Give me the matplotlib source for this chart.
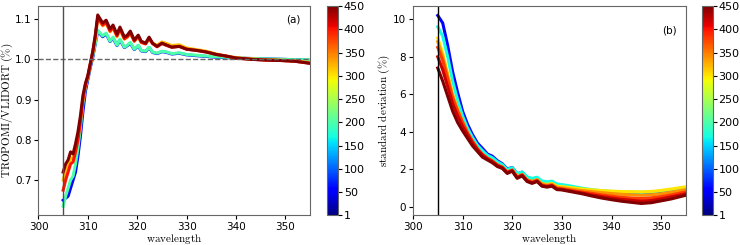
import matplotlib
matplotlib.use("Agg")
import matplotlib.pyplot as plt
from matplotlib import cm, colors

plt.rcParams['mathtext.fontset'] = 'cm'

# orbit index of each drawn curve (colour scale 1..450)
idx_a = [60, 200, 320, 400, 450]
idx_b = [60, 170, 300, 340, 380, 420, 450]
cbar_ticks = [1, 50, 100, 150, 200, 250, 300, 350, 400, 450]

# (a) ratio TROPOMI / VLIDORT
wave_a = [305, 305.5, 306, 306.5, 307, 307.5, 308, 308.5, 309, 309.5, 310, 310.5, 311, 311.5,
          312, 313, 313.7, 314.5, 315.1, 315.9, 316.5, 317.4, 318.0, 318.6, 319.4, 320.2, 320.8,
          321.7, 322.4, 323.1, 324.0, 325.0, 326.0, 327.0, 328.5, 330, 332, 334, 336, 338, 340,
          343, 346, 349, 352, 355]
ratio_60 = [0.65, 0.655, 0.66, 0.68, 0.70, 0.72, 0.76, 0.81, 0.87, 0.92, 0.95, 0.98, 1.005, 1.038,
            1.07, 1.056, 1.063, 1.044, 1.053, 1.034, 1.048, 1.029, 1.034, 1.04, 1.024, 1.034, 1.021,
            1.019, 1.029, 1.017, 1.014, 1.019, 1.017, 1.013, 1.015, 1.011, 1.009, 1.007, 1.005, 1.004,
            1.003, 1.002, 1.001, 1.0, 0.999, 0.998]
ratio_200 = [0.635, 0.66, 0.68, 0.70, 0.71, 0.74, 0.78, 0.83, 0.89, 0.93, 0.955, 0.985, 1.01, 1.04,
             1.072, 1.058, 1.065, 1.045, 1.055, 1.035, 1.05, 1.03, 1.035, 1.042, 1.025, 1.035, 1.022,
             1.02, 1.03, 1.018, 1.015, 1.02, 1.018, 1.014, 1.016, 1.012, 1.01, 1.008, 1.006, 1.005,
             1.003, 1.002, 1.001, 1.0, 0.999, 0.999]
ratio_320 = [0.70, 0.72, 0.735, 0.755, 0.755, 0.78, 0.81, 0.85, 0.90, 0.935, 0.957, 0.988, 1.015, 1.052,
             1.102, 1.083, 1.09, 1.068, 1.078, 1.056, 1.074, 1.05, 1.055, 1.065, 1.045, 1.056, 1.042,
             1.039, 1.052, 1.04, 1.035, 1.043, 1.039, 1.034, 1.036, 1.028, 1.024, 1.02, 1.013, 1.008,
             1.004, 1.001, 0.999, 0.998, 0.996, 0.992]
ratio_400 = [0.675, 0.70, 0.72, 0.74, 0.745, 0.77, 0.80, 0.845, 0.90, 0.935, 0.958, 0.988, 1.018, 1.055,
             1.104, 1.085, 1.092, 1.07, 1.08, 1.058, 1.076, 1.051, 1.056, 1.066, 1.045, 1.057, 1.042,
             1.038, 1.052, 1.039, 1.031, 1.039, 1.034, 1.03, 1.032, 1.025, 1.022, 1.018, 1.012, 1.008,
             1.003, 1.0, 0.998, 0.997, 0.995, 0.99]
ratio_450 = [0.72, 0.74, 0.75, 0.77, 0.765, 0.79, 0.82, 0.86, 0.91, 0.94, 0.96, 0.99, 1.02, 1.06,
             1.11, 1.09, 1.097, 1.075, 1.085, 1.062, 1.08, 1.055, 1.06, 1.07, 1.048, 1.06, 1.045,
             1.04, 1.055, 1.04, 1.032, 1.04, 1.035, 1.03, 1.032, 1.025, 1.022, 1.018, 1.012, 1.008,
             1.003, 1.0, 0.998, 0.997, 0.995, 0.99]

# (b) standard deviation in %
wave_b = [305, 306, 307, 308, 309, 310, 311, 312, 313, 314, 315, 316, 317, 318, 319, 320, 321, 322,
          323, 324, 325, 326, 327, 328, 329, 330, 332, 334, 336, 338, 340, 342, 344, 346, 348, 350,
          352, 355]
std_60 = [10.2, 9.8, 8.6, 7.2, 6.1, 5.1, 4.4, 3.85, 3.4, 3.12, 2.82, 2.7, 2.46, 2.3, 2.02, 2.1, 1.76,
          1.85, 1.56, 1.47, 1.52, 1.3, 1.24, 1.27, 1.12, 1.1, 1.03, 0.94, 0.88, 0.83, 0.79, 0.77, 0.75,
          0.74, 0.76, 0.82, 0.89, 1.0]
std_170 = [9.6, 9.1, 8.0, 6.7, 5.7, 4.85, 4.2, 3.7, 3.28, 3.0, 2.75, 2.62, 2.4, 2.26, 1.99, 2.09, 1.76,
           1.86, 1.6, 1.52, 1.58, 1.38, 1.34, 1.37, 1.22, 1.19, 1.1, 1.0, 0.92, 0.86, 0.82, 0.8, 0.78,
           0.77, 0.79, 0.85, 0.92, 1.03]
std_300 = [9.0, 8.2, 7.1, 6.0, 5.2, 4.5, 3.9, 3.4, 3.0, 2.7, 2.52, 2.4, 2.18, 2.08, 1.83, 1.93, 1.6,
           1.7, 1.43, 1.36, 1.45, 1.24, 1.2, 1.25, 1.1, 1.08, 1.02, 0.96, 0.91, 0.87, 0.84, 0.82, 0.81,
           0.8, 0.82, 0.88, 0.95, 1.07]
std_340 = [8.8, 8.0, 7.0, 5.95, 5.2, 4.55, 3.95, 3.5, 3.1, 2.8, 2.6, 2.45, 2.24, 2.12, 1.86, 1.97, 1.61,
           1.73, 1.44, 1.35, 1.45, 1.21, 1.16, 1.21, 1.04, 1.02, 0.94, 0.87, 0.82, 0.76, 0.71, 0.67, 0.64,
           0.62, 0.64, 0.7, 0.78, 0.92]
std_380 = [8.5, 7.8, 6.8, 5.8, 5.1, 4.5, 3.95, 3.5, 3.1, 2.8, 2.6, 2.45, 2.24, 2.12, 1.85, 1.96, 1.58,
           1.71, 1.41, 1.31, 1.41, 1.16, 1.11, 1.16, 0.98, 0.96, 0.87, 0.79, 0.72, 0.64, 0.57, 0.51, 0.47,
           0.45, 0.48, 0.55, 0.64, 0.8]
std_420 = [8.0, 7.3, 6.4, 5.5, 4.85, 4.3, 3.85, 3.4, 3.05, 2.75, 2.55, 2.4, 2.2, 2.09, 1.82, 1.93, 1.55,
           1.68, 1.38, 1.28, 1.38, 1.13, 1.08, 1.13, 0.95, 0.93, 0.83, 0.74, 0.64, 0.55, 0.47, 0.4, 0.35,
           0.31, 0.34, 0.43, 0.53, 0.7]
std_450 = [7.4, 6.7, 5.9, 5.1, 4.5, 4.05, 3.65, 3.25, 2.95, 2.65, 2.5, 2.35, 2.15, 2.05, 1.78, 1.9, 1.52,
           1.65, 1.35, 1.25, 1.35, 1.1, 1.05, 1.1, 0.92, 0.9, 0.8, 0.7, 0.58, 0.47, 0.38, 0.3, 0.24,
           0.18, 0.22, 0.32, 0.42, 0.62]

curves_a = [ratio_60, ratio_200, ratio_320, ratio_400, ratio_450]
curves_b = [std_60, std_170, std_300, std_340, std_380, std_420, std_450]

norm = colors.Normalize(vmin=1, vmax=450)
cmap = cm.jet

fig = plt.figure(figsize=(7.4, 2.45), dpi=100)
ax1 = fig.add_axes([0.052, 0.122, 0.367, 0.853])
cax1 = fig.add_axes([0.442, 0.122, 0.015, 0.853])
ax2 = fig.add_axes([0.558, 0.122, 0.369, 0.853])
cax2 = fig.add_axes([0.9486, 0.122, 0.015, 0.853])

tick_fs = 7.5
label_fs = 8

# panel (a)
for i, y in zip(idx_a, curves_a):
    ax1.plot(wave_a, y, color=cmap(norm(i)), lw=2.2)
ax1.axhline(1.0, color='0.4', ls='--', lw=1)
ax1.axvline(305, color='0.3', lw=1)
ax1.set_xlim(300, 355)
ax1.set_ylim(0.613, 1.132)
ax1.set_yticks([0.7, 0.8, 0.9, 1.0, 1.1])
ax1.set_xticks([300, 310, 320, 330, 340, 350])
ax1.set_xlabel(r'$\mathrm{wavelength}$', fontsize=label_fs, labelpad=0)
ax1.set_ylabel(r'$\mathrm{TROPOMI/VLIDORT\ (\%)}$', fontsize=label_fs, va='center')
ax1.yaxis.set_label_coords(-0.115, 0.5)
ax1.text(0.94, 0.935, '(a)', transform=ax1.transAxes, ha='center', va='center', fontsize=tick_fs)

# panel (b)
for i, y in zip(idx_b, curves_b):
    ax2.plot(wave_b, y, color=cmap(norm(i)), lw=2.2)
ax2.axvline(305, color='k', lw=1)
ax2.set_xlim(300, 355)
ax2.set_ylim(-0.44, 10.7)
ax2.set_yticks([0, 2, 4, 6, 8, 10])
ax2.set_xticks([300, 310, 320, 330, 340, 350])
ax2.set_xlabel(r'$\mathrm{wavelength}$', fontsize=label_fs, labelpad=0)
ax2.set_ylabel(r'$\mathrm{standard\ deviation\ (\%)}$', fontsize=label_fs, va='center')
ax2.yaxis.set_label_coords(-0.103, 0.5)
ax2.text(0.938, 0.885, '(b)', transform=ax2.transAxes, ha='center', va='center', fontsize=tick_fs)

for ax in (ax1, ax2):
    ax.tick_params(labelsize=tick_fs, length=3, pad=2)
    for s in ax.spines.values():
        s.set_color('0.4')

for cax in (cax1, cax2):
    sm = cm.ScalarMappable(norm=norm, cmap=cmap)
    cb = fig.colorbar(sm, cax=cax, ticks=cbar_ticks)
    cb.ax.tick_params(labelsize=8, length=3, pad=1)
    cb.outline.set_edgecolor('0.4')

fig.savefig('out.png', dpi=100)
